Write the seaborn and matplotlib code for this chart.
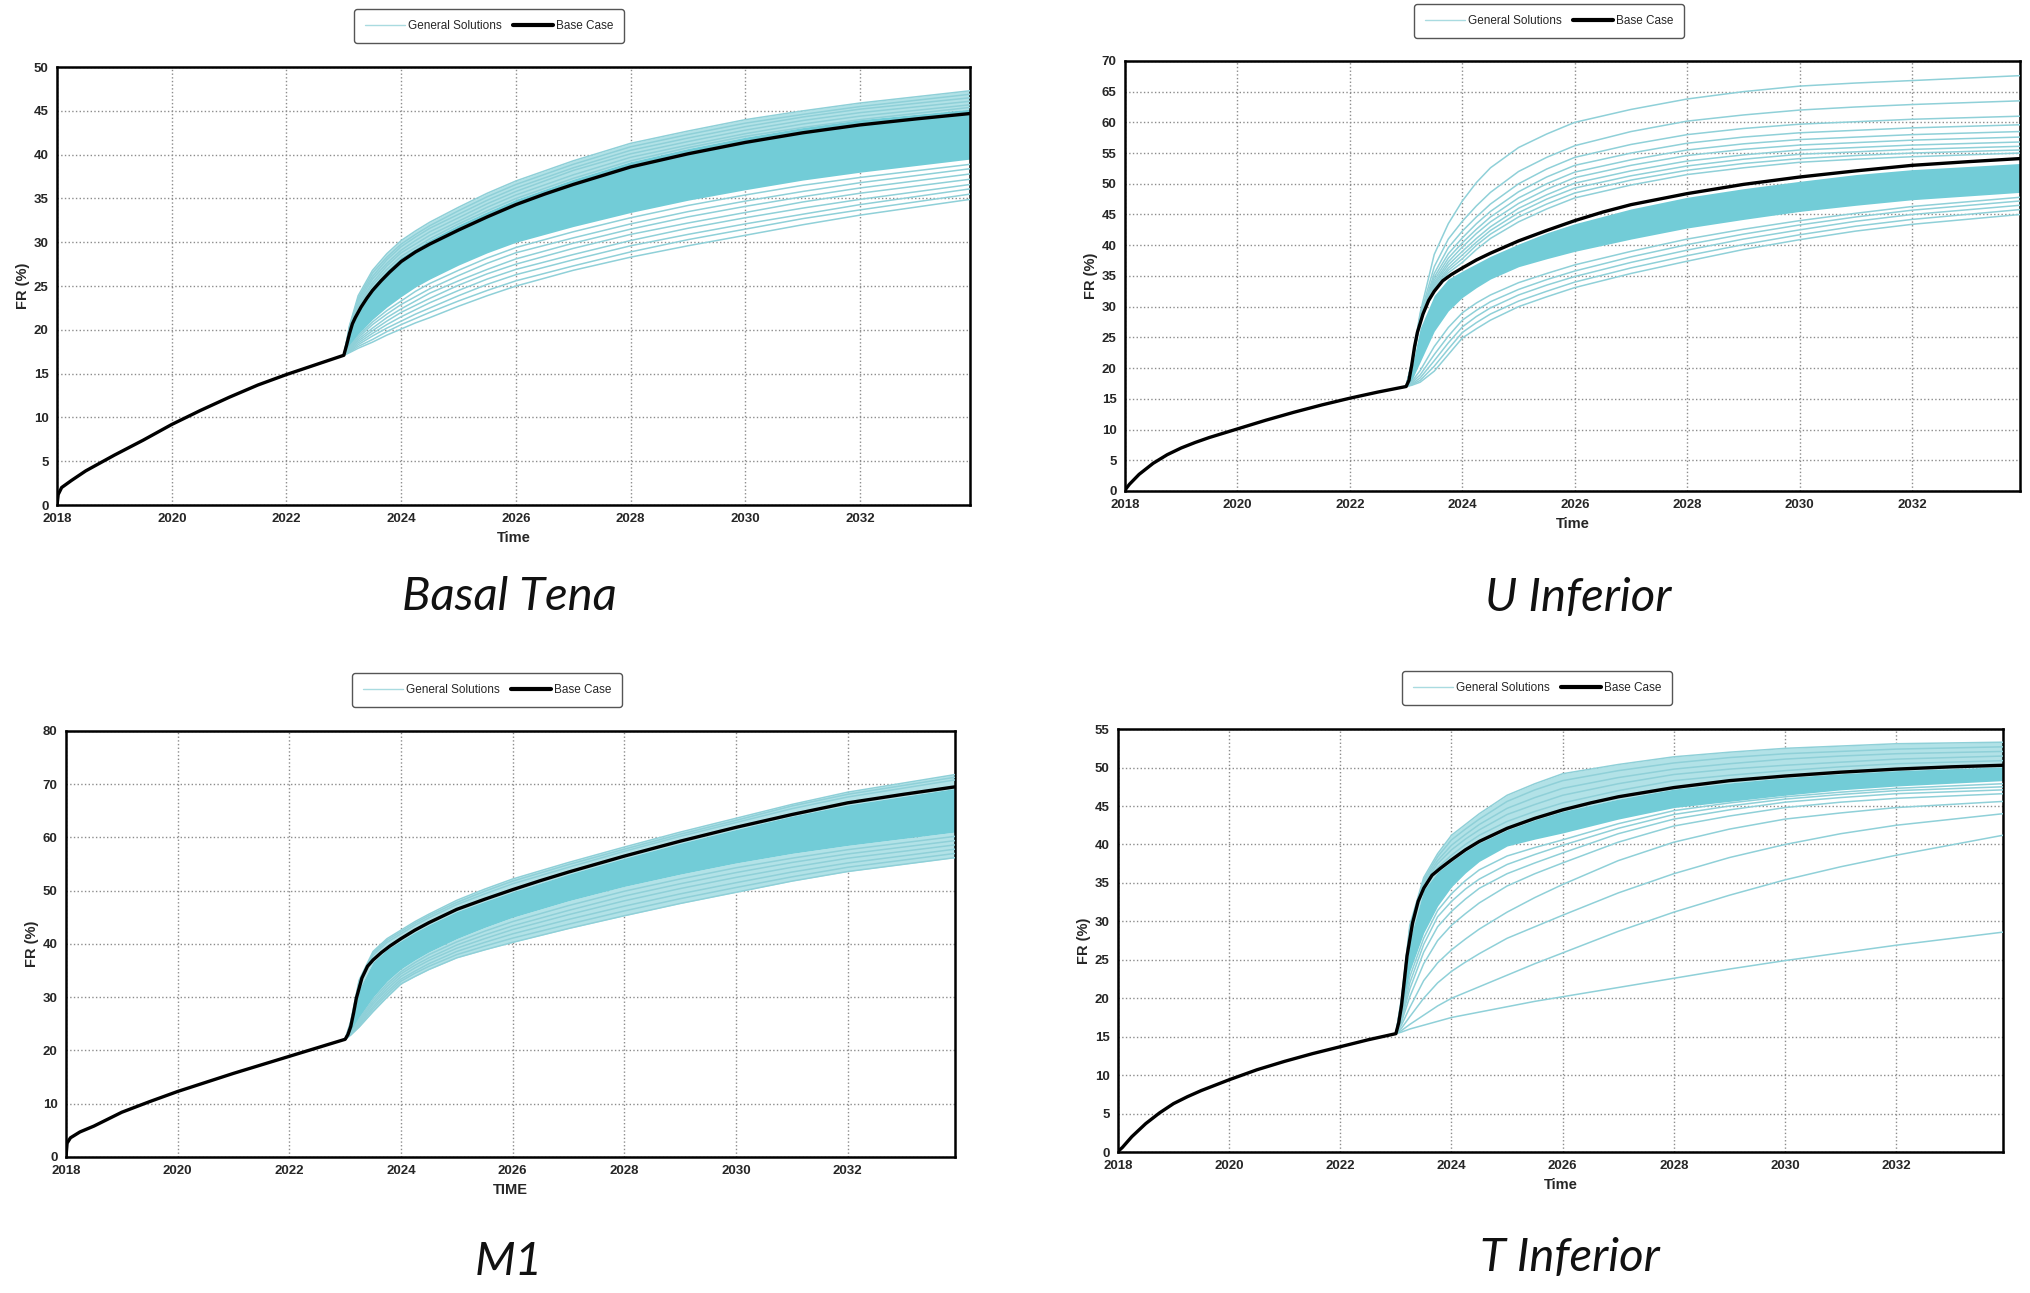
import numpy as np
import pandas as pd
import seaborn as sns
import matplotlib.pyplot as plt
from matplotlib.lines import Line2D

# time grids (years)
PRE_T = [2018.0, 2018.02, 2018.08, 2018.25, 2018.5, 2018.75, 2019.0, 2019.25, 2019.5, 2020.0,
         2020.5, 2021.0, 2021.5, 2022.0, 2022.5, 2023.0]
BASE_POST_T = [2023.0, 2023.05, 2023.1, 2023.15, 2023.2, 2023.3, 2023.4, 2023.5, 2023.65, 2023.8,
               2024.0, 2024.25, 2024.5, 2025.0, 2025.5, 2026.0, 2026.5, 2027.0, 2028.0, 2029.0,
               2030.0, 2031.0, 2032.0, 2033.0, 2033.92]
POST_T = [2023.0, 2023.1, 2023.25, 2023.5, 2023.75, 2024.0, 2024.25, 2024.5, 2025.0, 2025.5,
          2026.0, 2027.0, 2028.0, 2029.0, 2030.0, 2031.0, 2032.0, 2033.92]
YEAR_TICKS = [2018, 2020, 2022, 2024, 2026, 2028, 2030, 2032]
X_END = 2033.92

# ---- Basal Tena ----
bt_base_pre = [0.0, 1.2, 2.0, 2.8, 3.9, 4.8, 5.7, 6.55, 7.4, 9.2, 10.8, 12.3, 13.7, 14.9, 16.0, 17.1]
bt_base_post = [17.1, 18.3, 19.6, 20.7, 21.4, 22.6, 23.6, 24.5, 25.6, 26.6, 27.8, 28.9, 29.8, 31.4,
                32.9, 34.3, 35.5, 36.6, 38.6, 40.1, 41.4, 42.5, 43.4, 44.1, 44.7]
bt_band_lo = [17.1, 18.2, 19.5, 21.2, 22.6, 23.8, 24.9, 25.8, 27.4, 28.8, 30.0, 31.8, 33.4, 34.8, 36.0, 37.1, 38.0, 39.5]
bt_band_hi = [17.1, 19.8, 22.5, 25.0, 26.8, 28.3, 29.3, 30.3, 32.0, 33.5, 34.9, 37.2, 39.2, 40.7, 42.0, 43.1, 44.0, 45.2]
bt_fan = [
    [17.1, 17.4, 17.9, 18.6, 19.4, 20.1, 20.8, 21.4, 22.7, 23.9, 25.0, 26.8, 28.3, 29.6, 30.8, 32.0, 33.1, 34.9],
    [17.1, 17.5, 18.1, 18.9, 19.8, 20.6, 21.3, 22.0, 23.3, 24.5, 25.6, 27.3, 28.9, 30.3, 31.5, 32.7, 33.7, 35.5],
    [17.1, 17.6, 18.3, 19.3, 20.2, 21.0, 21.8, 22.5, 23.9, 25.2, 26.3, 28.0, 29.6, 30.9, 32.1, 33.2, 34.3, 36.1],
    [17.1, 17.7, 18.5, 19.6, 20.6, 21.5, 22.3, 23.1, 24.5, 25.8, 26.9, 28.6, 30.2, 31.6, 32.8, 33.9, 34.9, 36.6],
    [17.1, 17.8, 18.7, 19.9, 21.0, 22.0, 22.8, 23.6, 25.1, 26.4, 27.5, 29.3, 30.9, 32.2, 33.4, 34.6, 35.6, 37.2],
    [17.1, 17.9, 18.9, 20.2, 21.4, 22.4, 23.3, 24.2, 25.6, 26.9, 28.1, 29.9, 31.5, 32.9, 34.1, 35.2, 36.2, 37.8],
    [17.1, 18.0, 19.1, 20.6, 21.8, 22.9, 23.8, 24.7, 26.2, 27.6, 28.8, 30.5, 32.1, 33.5, 34.7, 35.8, 36.8, 38.4],
    [17.1, 18.1, 19.3, 20.9, 22.2, 23.3, 24.4, 25.3, 26.8, 28.2, 29.4, 31.2, 32.8, 34.2, 35.4, 36.5, 37.4, 38.9],
    [17.1, 19.8, 22.6, 25.1, 26.9, 28.4, 29.4, 30.4, 32.1, 33.6, 35.0, 37.3, 39.3, 40.8, 42.1, 43.1, 44.0, 45.4],
    [17.1, 20.0, 22.8, 25.4, 27.3, 28.8, 29.8, 30.8, 32.4, 34.0, 35.4, 37.7, 39.7, 41.1, 42.4, 43.5, 44.4, 45.7],
    [17.1, 20.1, 23.1, 25.8, 27.6, 29.1, 30.2, 31.2, 32.8, 34.4, 35.8, 38.2, 40.1, 41.5, 42.8, 43.9, 44.8, 46.1],
    [17.1, 20.2, 23.4, 26.1, 28.0, 29.5, 30.6, 31.6, 33.2, 34.8, 36.2, 38.5, 40.5, 41.9, 43.2, 44.3, 45.2, 46.5],
    [17.1, 20.4, 23.6, 26.5, 28.3, 29.8, 30.9, 31.9, 33.6, 35.2, 36.6, 38.9, 40.9, 42.3, 43.6, 44.6, 45.5, 46.9],
    [17.1, 20.5, 23.9, 26.8, 28.7, 30.2, 31.3, 32.3, 34.0, 35.6, 37.0, 39.3, 41.3, 42.7, 44.0, 45.0, 45.9, 47.3],
]

# ---- U Inferior ----
ui_base_pre = [0.0, 0.4, 1.1, 2.7, 4.5, 5.9, 7.0, 7.9, 8.7, 10.1, 11.5, 12.8, 14.0, 15.1, 16.1, 17.0]
ui_base_post = [17.0, 18.0, 20.5, 23.5, 25.8, 28.8, 31.0, 32.5, 34.2, 35.2, 36.3, 37.6, 38.7, 40.7,
                42.4, 44.0, 45.4, 46.6, 48.4, 49.9, 51.1, 52.1, 53.0, 53.6, 54.1]
ui_band_lo = [17.0, 18.0, 21.0, 26.0, 29.3, 31.5, 33.1, 34.5, 36.5, 37.8, 39.0, 41.0, 42.8, 44.2, 45.5, 46.5, 47.4, 48.6]
ui_band_hi = [17.0, 20.0, 26.5, 31.8, 34.5, 35.8, 37.0, 38.2, 40.2, 42.0, 43.5, 45.9, 47.8, 49.2, 50.4, 51.5, 52.3, 53.3]
ui_fan = [
    [17.0, 21.0, 29.0, 38.5, 43.5, 47.2, 50.2, 52.6, 55.9, 58.1, 60.0, 62.1, 63.8, 65.0, 65.9, 66.4, 66.8, 67.6],
    [17.0, 20.8, 28.6, 36.5, 41.0, 43.9, 46.4, 48.6, 52.0, 54.3, 56.2, 58.5, 60.2, 61.2, 62.0, 62.5, 62.9, 63.5],
    [17.0, 20.7, 28.3, 35.4, 39.6, 42.3, 44.6, 46.7, 50.0, 52.4, 54.3, 56.4, 58.0, 59.0, 59.7, 60.1, 60.5, 61.0],
    [17.0, 20.6, 28.1, 34.8, 38.6, 41.2, 43.5, 45.5, 48.7, 51.1, 53.0, 55.0, 56.6, 57.6, 58.3, 58.7, 59.1, 59.6],
    [17.0, 20.6, 28.0, 34.3, 37.9, 40.4, 42.6, 44.6, 47.7, 50.0, 51.9, 53.9, 55.5, 56.5, 57.2, 57.6, 58.0, 58.5],
    [17.0, 20.6, 27.9, 33.9, 37.3, 39.7, 41.9, 43.8, 46.8, 49.1, 51.0, 53.0, 54.6, 55.6, 56.3, 56.7, 57.1, 57.6],
    [17.0, 20.5, 27.8, 33.6, 36.8, 39.0, 41.1, 43.0, 46.0, 48.2, 50.1, 52.1, 53.7, 54.7, 55.5, 55.9, 56.3, 56.8],
    [17.0, 20.5, 27.7, 33.3, 36.3, 38.4, 40.5, 42.4, 45.3, 47.5, 49.3, 51.3, 52.9, 54.0, 54.8, 55.2, 55.6, 56.1],
    [17.0, 20.5, 27.6, 33.0, 35.9, 37.8, 40.0, 41.8, 44.6, 46.7, 48.5, 50.6, 52.2, 53.3, 54.1, 54.6, 55.0, 55.5],
    [17.0, 20.5, 27.6, 32.8, 35.5, 37.2, 39.3, 41.1, 43.8, 45.9, 47.7, 49.8, 51.5, 52.6, 53.5, 54.0, 54.4, 55.0],
    [17.0, 17.2, 17.7, 19.5, 22.2, 24.9, 26.4, 27.8, 30.0, 31.6, 33.1, 35.4, 37.4, 39.3, 40.9, 42.3, 43.4, 45.0],
    [17.0, 17.3, 18.0, 20.3, 23.1, 25.8, 27.4, 28.8, 30.9, 32.5, 34.0, 36.3, 38.3, 40.1, 41.7, 43.1, 44.2, 45.8],
    [17.0, 17.4, 18.4, 21.2, 24.1, 26.7, 28.4, 29.8, 31.9, 33.5, 34.9, 37.2, 39.2, 41.0, 42.5, 43.9, 45.0, 46.5],
    [17.0, 17.6, 18.9, 22.2, 25.2, 27.8, 29.4, 30.8, 32.8, 34.4, 35.8, 38.1, 40.1, 41.8, 43.3, 44.6, 45.7, 47.2],
    [17.0, 17.8, 19.6, 23.5, 26.6, 29.0, 30.6, 31.9, 33.9, 35.4, 36.8, 39.0, 41.0, 42.6, 44.0, 45.2, 46.3, 47.8],
]

# ---- M1 ----
m1_base_pre = [0.0, 2.6, 3.6, 4.7, 5.8, 7.1, 8.4, 9.4, 10.4, 12.3, 14.0, 15.7, 17.3, 18.9, 20.5, 22.1]
m1_base_post = [22.1, 23.0, 24.5, 27.0, 29.8, 33.6, 35.8, 37.0, 38.4, 39.6, 41.0, 42.6, 44.0, 46.5,
                48.4, 50.2, 51.9, 53.5, 56.5, 59.3, 61.9, 64.3, 66.5, 68.1, 69.5]
m1_band_lo = [22.1, 23.4, 26.2, 30.0, 33.0, 35.3, 37.0, 38.5, 41.0, 43.1, 45.0, 48.1, 50.8, 53.1, 55.2, 57.0, 58.5, 61.0]
m1_band_hi = [22.1, 24.3, 31.5, 36.6, 39.0, 40.6, 42.2, 43.6, 46.1, 48.0, 49.8, 53.1, 56.1, 58.9, 61.5, 64.0, 66.1, 69.2]
m1_fan = [
    [22.1, 22.9, 24.4, 27.3, 30.0, 32.5, 33.9, 35.2, 37.4, 38.9, 40.3, 42.9, 45.3, 47.6, 49.7, 51.8, 53.6, 56.2],
    [22.1, 23.0, 24.7, 27.8, 30.5, 33.0, 34.5, 35.8, 38.0, 39.6, 41.1, 43.7, 46.2, 48.5, 50.6, 52.6, 54.4, 57.0],
    [22.1, 23.1, 25.0, 28.2, 31.0, 33.4, 34.9, 36.3, 38.6, 40.3, 41.9, 44.6, 47.1, 49.4, 51.5, 53.5, 55.2, 57.8],
    [22.1, 23.2, 25.3, 28.7, 31.5, 33.9, 35.5, 36.9, 39.2, 41.0, 42.7, 45.5, 48.1, 50.4, 52.5, 54.4, 56.1, 58.6],
    [22.1, 23.2, 25.6, 29.1, 32.0, 34.4, 36.0, 37.4, 39.8, 41.7, 43.4, 46.3, 49.0, 51.3, 53.4, 55.3, 56.9, 59.4],
    [22.1, 23.3, 25.9, 29.6, 32.5, 34.8, 36.5, 38.0, 40.4, 42.4, 44.2, 47.2, 49.9, 52.2, 54.3, 56.1, 57.7, 60.2],
    [22.1, 25.0, 32.6, 37.9, 40.3, 41.9, 43.5, 44.9, 47.4, 49.4, 51.3, 54.4, 57.4, 60.2, 62.8, 65.4, 67.6, 70.8],
    [22.1, 25.2, 32.9, 38.3, 40.7, 42.3, 43.9, 45.3, 47.8, 49.9, 51.8, 54.9, 57.8, 60.6, 63.2, 65.9, 68.1, 71.3],
    [22.1, 25.5, 33.2, 38.6, 41.0, 42.6, 44.2, 45.6, 48.2, 50.3, 52.2, 55.3, 58.2, 61.0, 63.6, 66.2, 68.5, 71.8],
]

# ---- T Inferior ----
ti_base_pre = [0.0, 0.2, 0.6, 2.0, 3.7, 5.1, 6.3, 7.2, 8.0, 9.4, 10.7, 11.8, 12.8, 13.7, 14.6, 15.4]
ti_base_post = [15.4, 16.8, 19.0, 22.2, 25.5, 29.8, 32.6, 34.3, 36.0, 36.9, 38.0, 39.3, 40.4, 42.1,
                43.4, 44.5, 45.4, 46.2, 47.4, 48.3, 48.9, 49.4, 49.8, 50.1, 50.3]
ti_band_lo = [15.4, 18.0, 23.5, 28.5, 32.0, 34.5, 36.3, 37.8, 39.8, 40.7, 41.5, 43.3, 44.8, 45.6, 46.4, 47.1, 47.6, 48.3]
ti_band_hi = [15.4, 18.8, 27.6, 34.1, 36.4, 37.8, 39.1, 40.2, 41.9, 43.2, 44.3, 45.9, 47.2, 48.0, 48.7, 49.2, 49.6, 50.1]
ti_fan = [
    [15.4, 15.6, 16.0, 16.5, 17.0, 17.5, 17.85, 18.2, 18.9, 19.6, 20.2, 21.4, 22.6, 23.8, 24.9, 25.9, 26.9, 28.6],
    [15.4, 15.8, 16.6, 17.8, 19.0, 20.0, 20.75, 21.5, 23.0, 24.5, 25.9, 28.7, 31.2, 33.4, 35.4, 37.1, 38.6, 41.2],
    [15.4, 16.1, 17.6, 20.0, 22.0, 23.5, 24.7, 25.8, 27.8, 29.3, 30.8, 33.7, 36.2, 38.3, 40.0, 41.4, 42.5, 44.0],
    [15.4, 16.5, 18.8, 22.3, 24.6, 26.3, 27.7, 29.0, 31.2, 33.1, 34.8, 37.9, 40.3, 42.0, 43.3, 44.1, 44.8, 45.6],
    [15.4, 16.9, 20.2, 24.5, 27.5, 29.5, 31.0, 32.4, 34.6, 36.2, 37.6, 40.3, 42.4, 43.7, 44.8, 45.5, 46.0, 46.6],
    [15.4, 17.2, 21.2, 26.0, 29.3, 31.3, 32.9, 34.3, 36.2, 37.6, 38.9, 41.4, 43.3, 44.5, 45.5, 46.1, 46.6, 47.1],
    [15.4, 17.5, 22.0, 27.0, 30.6, 32.6, 34.2, 35.5, 37.4, 38.7, 39.9, 42.1, 43.9, 45.0, 45.9, 46.5, 47.0, 47.5],
    [15.4, 17.8, 22.8, 27.8, 31.4, 33.6, 35.3, 36.7, 38.5, 39.6, 40.6, 42.7, 44.4, 45.4, 46.2, 46.8, 47.3, 47.9],
    [15.4, 19.2, 28.2, 34.6, 37.0, 38.6, 40.0, 41.2, 43.0, 44.3, 45.4, 47.0, 48.3, 49.0, 49.6, 50.1, 50.5, 50.9],
    [15.4, 19.4, 28.5, 34.9, 37.5, 39.3, 40.7, 41.9, 43.9, 45.2, 46.4, 47.9, 49.1, 49.8, 50.3, 50.7, 51.1, 51.5],
    [15.4, 19.6, 28.8, 35.2, 37.9, 39.9, 41.3, 42.6, 44.7, 46.1, 47.3, 48.7, 49.8, 50.5, 51.1, 51.5, 51.8, 52.1],
    [15.4, 19.8, 29.1, 35.4, 38.4, 40.6, 42.0, 43.3, 45.6, 47.1, 48.3, 49.6, 50.6, 51.3, 51.8, 52.1, 52.4, 52.7],
    [15.4, 20.0, 29.5, 35.7, 38.8, 41.2, 42.6, 44.0, 46.4, 47.9, 49.2, 50.4, 51.4, 52.0, 52.5, 52.8, 53.1, 53.3],
]

PANELS = [
    dict(name='Basal Tena', xlabel='Time', ymax=50, ystep=5, base_pre=bt_base_pre, base_post=bt_base_post,
         band_lo=bt_band_lo, band_hi=bt_band_hi, fan=bt_fan, haze=[(bt_band_hi, bt_fan[-1])],
         rect=[0.0281, 0.6094, 0.4498, 0.3387], legend=(489, 26), title=(509, 597)),
    dict(name='U Inferior', xlabel='Time', ymax=70, ystep=5, base_pre=ui_base_pre, base_post=ui_base_post,
         band_lo=ui_band_lo, band_hi=ui_band_hi, fan=ui_fan, haze=[],
         rect=[0.5542, 0.6203, 0.4409, 0.3326], legend=(1549, 21), title=(1578, 598)),
    dict(name='M1', xlabel='TIME', ymax=80, ystep=10, base_pre=m1_base_pre, base_post=m1_base_post,
         band_lo=m1_band_lo, band_hi=m1_band_hi, fan=m1_fan,
         haze=[(m1_fan[0], m1_band_lo), (m1_band_hi, m1_fan[-1])],
         rect=[0.0325, 0.1052, 0.4379, 0.3295], legend=(487, 690), title=(509, 1262)),
    dict(name='T Inferior', xlabel='Time', ymax=55, ystep=5, base_pre=ti_base_pre, base_post=ti_base_post,
         band_lo=ti_band_lo, band_hi=ti_band_hi, fan=ti_fan, haze=[(ti_band_hi, ti_fan[-1])],
         rect=[0.5507, 0.1090, 0.4360, 0.3271], legend=(1537, 688), title=(1570, 1258)),
]

FAN_COLOR = '#8fd0d8'
BAND_COLOR = '#72ccd7'
HAZE_COLOR = '#b2e2e7'
W, H = 2030, 1293

sns.set_style('white')
plt.rcParams['font.family'] = ['Liberation Sans', 'DejaVu Sans']

fig = plt.figure(figsize=(W / 100, H / 100), dpi=100)


def draw_panel(p):
    ax = fig.add_axes(p['rect'])
    for lo, hi in p['haze']:
        ax.fill_between(POST_T, lo, hi, color=HAZE_COLOR, lw=0, zorder=1.5)
    ax.fill_between(POST_T, p['band_lo'], p['band_hi'], color=BAND_COLOR, lw=0, zorder=2)

    rows = [(i, t, v) for i, vals in enumerate(p['fan']) for t, v in zip(POST_T, vals)]
    fan = pd.DataFrame(rows, columns=['run', 'time', 'fr'])
    sns.lineplot(data=fan, x='time', y='fr', units='run', estimator=None, color=FAN_COLOR,
                 lw=1.1, ax=ax, legend=False, zorder=3)

    base = pd.DataFrame({'time': PRE_T + BASE_POST_T[1:], 'fr': p['base_pre'] + p['base_post'][1:]})
    sns.lineplot(data=base, x='time', y='fr', color='black', lw=2.4, ax=ax, zorder=5)

    ax.set_xlim(2018, X_END)
    ax.set_ylim(0, p['ymax'])
    ax.set_xticks(YEAR_TICKS)
    ax.set_yticks(np.arange(0, p['ymax'] + 1, p['ystep']))
    ax.grid(True, ls=':', color='#8c8c8c', lw=1.0, zorder=0)
    for s in ax.spines.values():
        s.set_color('black')
        s.set_linewidth(1.8)
    ax.tick_params(axis='both', direction='out', length=4, width=1, pad=2, labelsize=9.5)
    for lab in ax.get_xticklabels() + ax.get_yticklabels():
        lab.set_fontweight('bold')
    ax.set_xlabel(p['xlabel'], fontsize=10.5, fontweight='bold', labelpad=4)
    ax.set_ylabel('FR (%)', fontsize=10.5, fontweight='bold', labelpad=3)

    handles = [Line2D([], [], color='#a9dbe0', lw=1.0), Line2D([], [], color='black', lw=3.0)]
    lx, ly = p['legend']
    fig.legend(handles, ['General Solutions', 'Base Case'], loc='center', ncol=2,
               bbox_to_anchor=(lx / W, 1 - ly / H), fontsize=8.5, frameon=True, fancybox=True,
               edgecolor='#555555', handlelength=3.4, handletextpad=0.2, columnspacing=1.0,
               borderpad=0.9, framealpha=1)

    tx, ty = p['title']
    fig.text(tx / W, 1 - ty / H, p['name'], ha='center', va='center', fontsize=34,
             family=['Lato', 'DejaVu Sans'], style='italic', fontweight='normal', color='#111111')


for p in PANELS:
    draw_panel(p)

fig.savefig('out.png', dpi=100)
